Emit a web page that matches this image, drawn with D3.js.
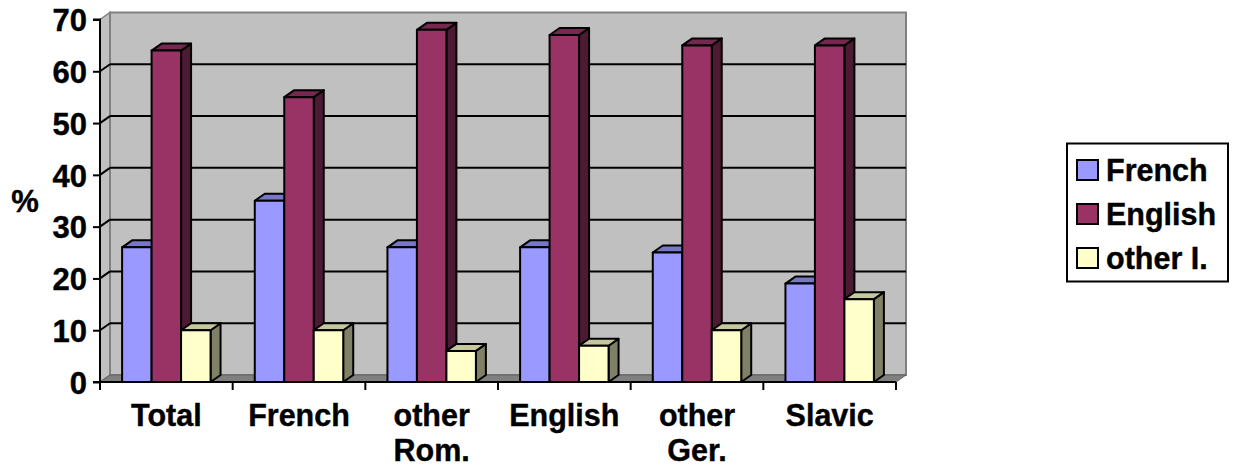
<!DOCTYPE html>
<html><head><meta charset="utf-8">
<script src="https://cdn.jsdelivr.net/npm/d3@7"></script>
<style>html,body{margin:0;padding:0;background:#fff;}svg{display:block;}text{font-family:"Liberation Sans",Arial,sans-serif;font-weight:bold;fill:#000;stroke:#000;stroke-width:0.4px;}</style>
</head><body>
<svg id="c" width="1234" height="471"></svg>
<script>
const categories = [["Total"],["French"],["other","Rom."],["English"],["other","Ger."],["Slavic"]];
const seriesNames = ["French","English","other I."];
const frenchVals  = [26, 35, 26, 26, 25, 19];
const englishVals = [64, 55, 68, 67, 65, 65];
const otherVals   = [10, 10, 6, 7, 10, 16];
const yTicks = [0,10,20,30,40,50,60,70];
const colors = ["#9999FF","#993366","#FFFFCC"];
const yLabel = "%";

const svg = d3.select("#c");
const DX = 10, DY = -7;
const x0 = d3.scaleBand().domain(d3.range(categories.length)).range([100, 896]).paddingInner(0).paddingOuter(0);
const x1 = d3.scaleBand().domain(seriesNames).range([0, x0.bandwidth()]).paddingInner(0).paddingOuter(0.75);
const y = d3.scaleLinear().domain([0, 70]).range([382, 19.5]);
const shade = (c, k) => { const r = d3.rgb(c); return d3.rgb(r.r*k, r.g*k, r.b*k).formatHex(); };
const pts = a => a.map(p => p.join(",")).join(" ");

const xL = x0.range()[0], xR = x0.range()[1];
const y0 = y(0), yTop = y(70);
svg.append("polygon").attr("points", pts([[xL,yTop],[xL+DX,yTop+DY],[xL+DX,y0+DY],[xL,y0]]))
  .attr("fill","#C0C0C0").attr("stroke","#808080").attr("stroke-width",1.5);
svg.append("polygon").attr("points", pts([[xL+DX,yTop+DY],[xR+DX,yTop+DY],[xR+DX,y0+DY],[xL+DX,y0+DY]]))
  .attr("fill","#C0C0C0").attr("stroke","#808080").attr("stroke-width",2);
svg.append("polygon").attr("points", pts([[xL,y0],[xL+DX,y0+DY],[xR+DX,y0+DY],[xR,y0]]))
  .attr("fill","#808080").attr("stroke","#606060").attr("stroke-width",1);
const grid = yTicks.filter(v => v > 0 && v < 70);
svg.append("g").selectAll("line.g").data(grid).join("line")
  .attr("x1", xL+DX).attr("x2", xR+DX).attr("y1", d => y(d)+DY).attr("y2", d => y(d)+DY)
  .attr("stroke","#000").attr("stroke-width",2);
svg.append("g").selectAll("line.d").data(grid).join("line")
  .attr("x1", xL).attr("x2", xL+DX).attr("y1", d => y(d)).attr("y2", d => y(d)+DY)
  .attr("stroke","#000").attr("stroke-width",2);

const allVals = [frenchVals, englishVals, otherVals];
const gb = svg.append("g");
categories.forEach((cat, ci) => {
  seriesNames.forEach((s, si) => {
    const v = allVals[si][ci];
    const bx = x0(ci) + x1(s), w = x1.bandwidth();
    const top = y(v), bot = y(0);
    const c = colors[si];
    const g = gb.append("g").attr("stroke","#000").attr("stroke-width",2).attr("stroke-linejoin","round");
    g.append("polygon").attr("points", pts([[bx+w,top],[bx+w+DX,top+DY],[bx+w+DX,bot+DY],[bx+w,bot]])).attr("fill", shade(c,0.5));
    g.append("polygon").attr("points", pts([[bx,top],[bx+DX,top+DY],[bx+w+DX,top+DY],[bx+w,top]])).attr("fill", shade(c,0.78));
    g.append("rect").attr("x", bx).attr("y", top).attr("width", w).attr("height", bot-top).attr("fill", c);
  });
});

const yAxis = d3.axisLeft(y).tickValues(yTicks).tickSize(7).tickPadding(6).tickFormat(d3.format("d"));
const ya = svg.append("g").attr("transform", `translate(${xL},0)`).call(yAxis);
ya.select(".domain").attr("stroke","#000").attr("stroke-width",2).attr("d", `M-7,${yTop}H0V${y0}H-7`);
ya.selectAll(".tick line").attr("stroke","#000").attr("stroke-width",2);
ya.selectAll(".tick text").attr("font-size", 31).attr("font-family", null).attr("fill","#000").attr("dy","0.36em");

const xa = svg.append("g").attr("transform", `translate(0,${y0})`);
xa.append("line").attr("x1", xL).attr("x2", xR).attr("y1",0).attr("y2",0).attr("stroke","#000").attr("stroke-width",2);
const bounds = d3.range(categories.length+1).map(i => i < categories.length ? x0(i) : xR);
xa.selectAll("line.t").data(bounds).join("line").attr("x1", d=>d).attr("x2", d=>d).attr("y1",0).attr("y2",8)
  .attr("stroke","#000").attr("stroke-width",2);
const lbl = xa.selectAll("text.c").data(categories).join("text")
  .attr("text-anchor","middle").attr("font-size", 30.5);
lbl.each(function(d, i){
  const t = d3.select(this);
  d.forEach((line, li) => {
    t.append("tspan").attr("x", x0(i) + x0.bandwidth()/2).attr("y", 44 + li*35).text(line);
  });
});

svg.append("text").attr("x", 25).attr("y", 212).attr("text-anchor","middle").attr("font-size", 31).text(yLabel);

const lg = svg.append("g");
lg.append("rect").attr("x",1067).attr("y",143.5).attr("width",161).attr("height",138).attr("fill","#fff").attr("stroke","#000").attr("stroke-width",2);
seriesNames.forEach((s, i) => {
  const cy = 170 + i*44;
  lg.append("rect").attr("x",1077).attr("y",cy-10).attr("width",21).attr("height",20).attr("fill",colors[i]).attr("stroke","#000").attr("stroke-width",2);
  lg.append("text").attr("x",1106).attr("y",cy).attr("dy","0.36em").attr("font-size",30.5).text(s);
});
</script>
</body></html>
